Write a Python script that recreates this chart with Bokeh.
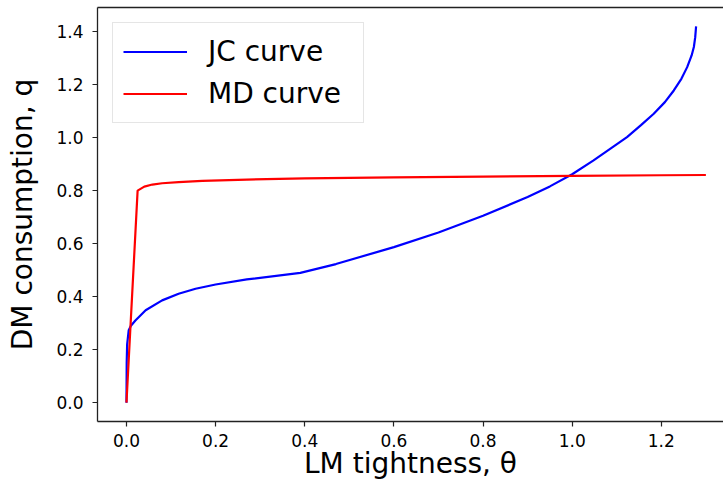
from bokeh.plotting import figure
from bokeh.models import (Range1d, FixedTicker, NumeralTickFormatter, Legend, LegendItem,
                          LinearAxis)
from bokeh.embed import file_html
from bokeh.resources import INLINE

# Data
jc_theta = [0, 0.0005, 0.0015, 0.005, 0.01, 0.02, 0.043, 0.08, 0.117, 0.155, 0.2, 0.27,
            0.39, 0.47, 0.6, 0.7, 0.8, 0.9, 0.95, 1.0, 1.048, 1.123, 1.155, 1.183,
            1.208, 1.228, 1.245, 1.258, 1.268, 1.273, 1.276, 1.278]
jc_q = [0, 0.15, 0.22, 0.273, 0.29, 0.31, 0.349, 0.386, 0.411, 0.43, 0.446, 0.465,
        0.49, 0.523, 0.587, 0.642, 0.705, 0.776, 0.816, 0.862, 0.914, 1.002, 1.048, 1.09,
        1.134, 1.178, 1.222, 1.266, 1.31, 1.342, 1.378, 1.42]
md_theta = [0, 0.025, 0.04, 0.058, 0.08, 0.117, 0.17, 0.25, 0.4, 0.6, 0.8, 1.0, 1.2, 1.3]
md_q = [0, 0.80, 0.815, 0.823, 0.828, 0.832, 0.837, 0.841, 0.846, 0.850, 0.853, 0.856,
        0.858, 0.859]
x_ticks = [0.0, 0.2, 0.4, 0.6, 0.8, 1.0, 1.2]
y_ticks = [0.0, 0.2, 0.4, 0.6, 0.8, 1.0, 1.2, 1.4]

FONT = "DejaVu Sans"

p = figure(width=723, height=494, output_backend="svg", toolbar_location=None,
           x_range=Range1d(-0.065, 1.3395), y_range=Range1d(-0.071, 1.491),
           min_border_left=97, min_border_right=0, min_border_top=7, min_border_bottom=73)
p.grid.visible = False
p.outline_line_color = None
p.background_fill_color = "white"
p.border_fill_color = "white"

r1 = p.line(jc_theta, jc_q, line_color="blue", line_width=2.2)
r2 = p.line(md_theta, md_q, line_color="red", line_width=2.2)

for ax in (p.xaxis[0], p.yaxis[0]):
    ax.axis_line_color = "#222222"
    ax.axis_line_width = 1.3
    ax.major_tick_line_color = "#222222"
    ax.major_tick_line_width = 1.2
    ax.major_tick_out = 5
    ax.major_tick_in = 0
    ax.minor_tick_line_color = None
    ax.major_label_text_font = FONT
    ax.major_label_text_font_size = "17px"
    ax.major_label_text_color = "black"
    ax.axis_label_text_font = FONT
    ax.axis_label_text_font_size = "28px"
    ax.axis_label_text_font_style = "normal"
    ax.axis_label_text_color = "black"
    ax.formatter = NumeralTickFormatter(format="0.0")

p.xaxis[0].ticker = FixedTicker(ticks=x_ticks)
p.yaxis[0].ticker = FixedTicker(ticks=y_ticks)
p.xaxis[0].axis_label = "LM tightness, θ"
p.yaxis[0].axis_label = "DM consumption, q"
p.xaxis[0].major_label_standoff = 7
p.yaxis[0].major_label_standoff = 9
p.xaxis[0].axis_label_standoff = -3
p.yaxis[0].axis_label_standoff = 14

# top spine (the reference is cropped on the right, so no right spine)
top = LinearAxis(ticker=FixedTicker(ticks=[]), major_tick_out=0, major_tick_in=0,
                 minor_tick_line_color=None, major_label_text_font_size="0px",
                 major_label_standoff=0, axis_line_color="#222222", axis_line_width=1.3)
p.add_layout(top, "above")

legend = Legend(items=[LegendItem(label="JC curve", renderers=[r1]),
                       LegendItem(label="MD curve", renderers=[r2])],
                location="top_left")
legend.margin = 15
legend.padding = 10
legend.spacing = 5
legend.glyph_width = 64
legend.glyph_height = 37
legend.label_height = 37
legend.label_width = 145
legend.label_standoff = 21
legend.label_text_font = FONT
legend.label_text_font_size = "28px"
legend.label_text_color = "black"
legend.border_line_color = "#cccccc"
legend.border_line_width = 1.2
legend.background_fill_alpha = 0.8
p.add_layout(legend)

open("out.html", "w").write(file_html(p, INLINE))
